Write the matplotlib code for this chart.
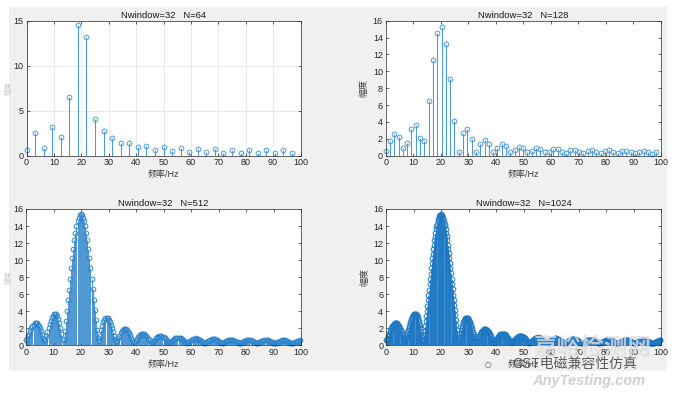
import numpy as np
import matplotlib
matplotlib.use("Agg")
import matplotlib.pyplot as plt
from matplotlib.patches import Rectangle

plt.rcParams['font.family'] = ['Liberation Sans', 'Noto Sans CJK SC', 'DejaVu Sans']

fs = 200.0
nwindow = 32

amp_64 = [0.59, 2.56, 0.89, 3.22, 2.05, 6.53, 14.56, 13.20, 4.12, 2.72, 2.02, 1.41,
          1.40, 0.92, 1.11, 0.67, 0.93, 0.52, 0.82, 0.43, 0.74, 0.37, 0.69, 0.33,
          0.65, 0.30, 0.62, 0.28, 0.60, 0.27, 0.59, 0.26]

amp_128 = [0.59, 1.72, 2.56, 2.24, 0.89, 1.52, 3.22, 3.62, 2.05, 1.72, 6.53, 11.32,
           14.56, 15.26, 13.20, 9.05, 4.12, 0.46, 2.72, 3.17, 2.02, 0.42, 1.41, 1.91,
           1.40, 0.43, 0.92, 1.37, 1.11, 0.43, 0.67, 1.07, 0.93, 0.43, 0.52, 0.89,
           0.82, 0.42, 0.43, 0.76, 0.74, 0.42, 0.37, 0.67, 0.69, 0.42, 0.33, 0.60,
           0.65, 0.42, 0.30, 0.55, 0.62, 0.42, 0.28, 0.51, 0.60, 0.43, 0.27, 0.48,
           0.59, 0.44, 0.26, 0.46]

amp_1024 = [
    0.59, 0.63, 0.73, 0.87, 1.04, 1.21, 1.38, 1.55, 1.72, 1.87, 2.01, 2.14, 2.26, 2.36, 2.44, 2.51,
    2.56, 2.59, 2.60, 2.59, 2.56, 2.51, 2.44, 2.35, 2.24, 2.12, 1.98, 1.82, 1.65, 1.47, 1.27, 1.08,
    0.89, 0.72, 0.60, 0.57, 0.66, 0.83, 1.04, 1.28, 1.52, 1.76, 2.00, 2.24, 2.46, 2.68, 2.87, 3.06,
    3.22, 3.36, 3.48, 3.57, 3.64, 3.68, 3.69, 3.67, 3.62, 3.54, 3.42, 3.27, 3.10, 2.88, 2.63, 2.35,
    2.05, 1.71, 1.35, 0.98, 0.65, 0.53, 0.78, 1.22, 1.72, 2.27, 2.83, 3.42, 4.03, 4.64, 5.27, 5.89,
    6.53, 7.17, 7.79, 8.41, 9.02, 9.62, 10.21, 10.76, 11.32, 11.81, 12.31, 12.77, 13.20, 13.60, 13.95, 14.27,
    14.56, 14.80, 15.00, 15.15, 15.26, 15.33, 15.36, 15.33, 15.26, 15.16, 15.00, 14.80, 14.56, 14.28, 13.96, 13.60,
    13.20, 12.78, 12.32, 11.83, 11.32, 10.78, 10.22, 9.64, 9.05, 8.45, 7.83, 7.21, 6.59, 5.96, 5.34, 4.73,
    4.12, 3.53, 2.95, 2.39, 1.85, 1.34, 0.88, 0.52, 0.46, 0.73, 1.08, 1.42, 1.74, 2.03, 2.30, 2.53,
    2.72, 2.89, 3.02, 3.12, 3.19, 3.23, 3.24, 3.21, 3.17, 3.09, 3.00, 2.88, 2.74, 2.58, 2.40, 2.21,
    2.02, 1.81, 1.59, 1.37, 1.15, 0.93, 0.72, 0.54, 0.42, 0.40, 0.49, 0.64, 0.80, 0.97, 1.13, 1.27,
    1.41, 1.53, 1.64, 1.73, 1.80, 1.85, 1.89, 1.91, 1.91, 1.90, 1.87, 1.83, 1.77, 1.69, 1.61, 1.51,
    1.40, 1.29, 1.16, 1.04, 0.90, 0.77, 0.65, 0.53, 0.43, 0.37, 0.37, 0.42, 0.51, 0.61, 0.71, 0.82,
    0.92, 1.01, 1.09, 1.17, 1.23, 1.28, 1.33, 1.35, 1.37, 1.38, 1.37, 1.35, 1.32, 1.28, 1.23, 1.18,
    1.11, 1.03, 0.95, 0.87, 0.78, 0.68, 0.59, 0.51, 0.43, 0.37, 0.34, 0.35, 0.39, 0.45, 0.52, 0.59,
    0.67, 0.74, 0.81, 0.87, 0.93, 0.98, 1.02, 1.05, 1.07, 1.09, 1.09, 1.09, 1.07, 1.05, 1.02, 0.98,
    0.93, 0.88, 0.82, 0.76, 0.69, 0.63, 0.56, 0.49, 0.43, 0.37, 0.34, 0.32, 0.33, 0.36, 0.41, 0.47,
    0.52, 0.58, 0.64, 0.70, 0.75, 0.79, 0.83, 0.86, 0.89, 0.90, 0.91, 0.92, 0.91, 0.90, 0.88, 0.85,
    0.82, 0.78, 0.74, 0.69, 0.64, 0.59, 0.53, 0.47, 0.42, 0.37, 0.34, 0.31, 0.31, 0.32, 0.35, 0.39,
    0.43, 0.48, 0.53, 0.58, 0.62, 0.67, 0.70, 0.73, 0.76, 0.78, 0.79, 0.80, 0.80, 0.80, 0.78, 0.77,
    0.74, 0.72, 0.68, 0.64, 0.60, 0.56, 0.51, 0.46, 0.42, 0.37, 0.34, 0.31, 0.29, 0.29, 0.31, 0.34,
    0.37, 0.41, 0.45, 0.50, 0.54, 0.58, 0.61, 0.64, 0.67, 0.69, 0.71, 0.72, 0.72, 0.72, 0.72, 0.71,
    0.69, 0.67, 0.64, 0.61, 0.58, 0.54, 0.50, 0.46, 0.42, 0.38, 0.34, 0.31, 0.29, 0.28, 0.29, 0.30,
    0.33, 0.36, 0.40, 0.44, 0.47, 0.51, 0.54, 0.58, 0.60, 0.63, 0.64, 0.66, 0.67, 0.67, 0.67, 0.66,
    0.65, 0.63, 0.61, 0.59, 0.56, 0.53, 0.49, 0.45, 0.42, 0.38, 0.35, 0.32, 0.29, 0.28, 0.27, 0.28,
    0.30, 0.33, 0.36, 0.39, 0.43, 0.46, 0.49, 0.52, 0.55, 0.58, 0.60, 0.61, 0.62, 0.63, 0.63, 0.63,
    0.62, 0.61, 0.59, 0.57, 0.55, 0.52, 0.49, 0.46, 0.42, 0.39, 0.35, 0.32, 0.30, 0.28, 0.27, 0.27,
    0.28, 0.30, 0.33, 0.36, 0.39, 0.42, 0.45, 0.49, 0.51, 0.54, 0.56, 0.58, 0.59, 0.60, 0.61, 0.61,
    0.60, 0.59, 0.58, 0.56, 0.54, 0.52, 0.49, 0.46, 0.43, 0.40, 0.37, 0.34, 0.31, 0.29, 0.27, 0.27,
    0.27, 0.28, 0.30, 0.33, 0.36, 0.39, 0.42, 0.45, 0.48, 0.51, 0.53, 0.55, 0.57, 0.58, 0.59, 0.59,
    0.59, 0.59, 0.58, 0.56, 0.55, 0.52, 0.50, 0.47, 0.44, 0.41, 0.38, 0.35, 0.32, 0.30, 0.28, 0.27,
    0.26, 0.27, 0.29, 0.31, 0.34, 0.37, 0.40, 0.43, 0.46, 0.49, 0.51, 0.54, 0.55, 0.57, 0.58, 0.59,
]

amp_512 = amp_1024[::2]

titles = ["Nwindow=32   N=64", "Nwindow=32   N=128", "Nwindow=32   N=512", "Nwindow=32   N=1024"]
xlabel = "频率/Hz"
ylabel = "幅度"

W, H = 680, 394
fig = plt.figure(figsize=(W / 100, H / 100), dpi=100, facecolor="white")
bg = Rectangle((9 / W, 1 - 371 / H), (667 - 9) / W, (371 - 7) / H,
               transform=fig.transFigure, facecolor="#f0f0f0",
               edgecolor="none", zorder=-10)
fig.add_artist(bg)

def px_axes(l, t, r, b):
    return fig.add_axes([l / W, 1 - b / H, (r - l) / W, (b - t) / H])

boxes = [(26.5, 20.7, 300.5, 155.7), (385.7, 20.7, 660.7, 155.7),
         (26, 209, 301, 345.3), (386, 209, 661, 345.3)]
series = [amp_64, amp_128, amp_512, amp_1024]
npts = [64, 128, 512, 1024]
colors = ["#4f9bd6", "#4f9bd6", "#2f86cc", "#1f78c4"]

for i, (box, amp, n) in enumerate(zip(boxes, series, npts)):
    ax = px_axes(*box)
    ax.set_zorder(1)
    freq = np.arange(len(amp)) * fs / n
    c = colors[i]
    ml, sl, bl = ax.stem(freq, amp, basefmt=" ")
    sl.set_color(c)
    sl.set_linewidth(0.8 if n <= 128 else 0.6)
    ml.set_marker("o")
    ml.set_markersize(3.4)
    ml.set_markerfacecolor("none")
    ml.set_markeredgecolor(c)
    ml.set_markeredgewidth(0.7)
    ml.set_clip_on(False)
    ax.set_xlim(0, 100)
    ax.set_xticks(np.arange(0, 101, 10))
    if i == 0:
        ax.set_ylim(0, 15)
        ax.set_yticks([0, 5, 10, 15])
        ax.grid(True, color="#e6e6e6", linewidth=0.6)
    else:
        ax.set_ylim(0, 16)
        ax.set_yticks(np.arange(0, 17, 2))
    ax.set_axisbelow(True)
    ax.tick_params(direction="in", length=2.5, width=0.5, labelsize=6.5,
                   colors="#262626", top=True, right=True, pad=2)
    for sp in ax.spines.values():
        sp.set_color("#262626")
        sp.set_linewidth(0.5)
    ax.set_title(titles[i], fontsize=6.8, color="#1a1a1a", pad=2)
    ax.set_xlabel(xlabel, fontsize=6.5, color="#404040", labelpad=2)
    if i % 2 == 1:
        ax.set_ylabel(ylabel, fontsize=6.5, color="#404040", labelpad=3)
    else:
        ax.set_ylabel(ylabel, fontsize=5, color="#c8c8c8")
        ax.yaxis.set_label_coords((13 - box[0]) / (box[2] - box[0]), 0.5)

# watermark texts
fig.text(533 / W, 1 - 348 / H, "嘉峪检测网", fontsize=17, color="#dcdcdc", alpha=0.8,
         ha="left", va="center", fontweight="bold", zorder=2)
fig.text(484 / W, 1 - 364 / H, "\u25cb", fontsize=10, color="#6a6a6a",
         ha="left", va="center", zorder=3)
fig.text(512 / W, 1 - 364 / H, "CST电磁兼容性仿真", fontsize=10, color="#5a5a5a",
         ha="left", va="center", zorder=3)
fig.text(532 / W, 1 - 381 / H, "AnyTesting.com", fontsize=10.5, color="#d0d0d0",
         ha="left", va="center", style="italic", fontweight="bold", zorder=2)

fig.savefig("out.png", dpi=100, facecolor="white")
